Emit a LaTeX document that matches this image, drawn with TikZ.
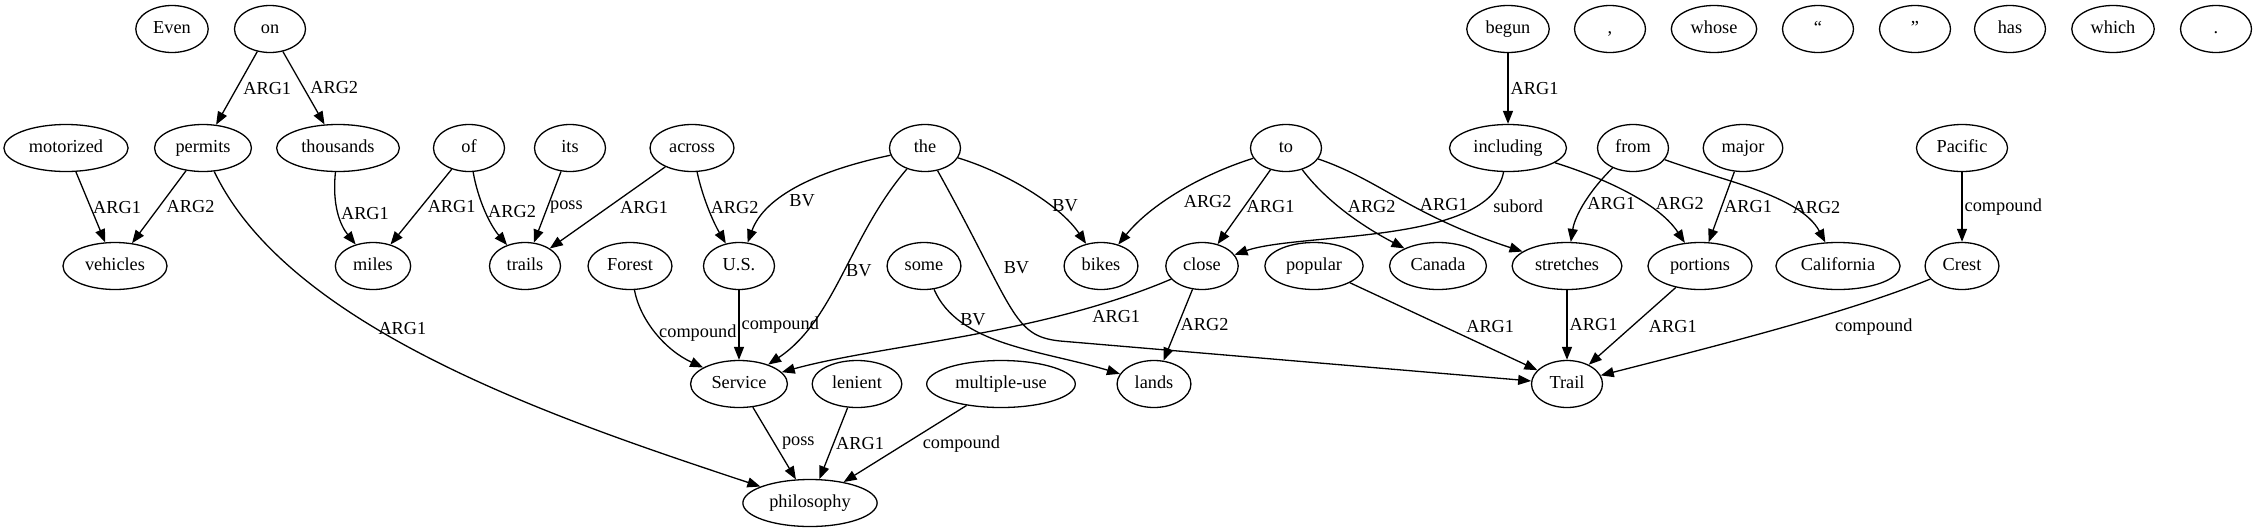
\documentclass[tikz,border=0pt]{standalone}
\usepackage{fontspec}
\setmainfont{Liberation Serif}
\usetikzlibrary{arrows.meta,shapes.geometric}

\begin{document}
\begin{tikzpicture}[x=1pt, y=1pt,
    every node/.style={font=\fontsize{18.3pt}{20pt}\selectfont},
    word/.style={draw, ellipse, line width=1.3pt, minimum height=47pt, minimum width=71pt, inner xsep=6.8pt, inner ysep=2pt, text height=12.5pt, text depth=4pt},
    edge/.style={line width=1.3pt, -{Triangle[length=13pt, width=10pt]}},
    lbl/.style={anchor=west, inner sep=2pt}]
    \useasboundingbox (0, 0) rectangle (2257, -528);

    \node [word] (even) at (172, -29) {Even};
    \node [word] (on) at (270, -29) {on};
    \node [word] (begun) at (1508, -29) {begun};
    \node [word] (comma) at (1610, -29) {,};
    \node [word] (whose) at (1714, -29) {whose};
    \node [word] (lquote) at (1818, -29) {“};
    \node [word] (rquote) at (1915, -29) {”};
    \node [word] (has) at (2010, -29) {has};
    \node [word] (which) at (2113, -29) {which};
    \node [word] (period) at (2216, -29) {.};

    \node [word] (motorized) at (66, -148) {motorized};
    \node [word] (permits) at (203, -148) {permits};
    \node [word] (thousands) at (338, -148) {thousands};
    \node [word] (of) at (469, -148) {of};
    \node [word] (its) at (570, -148) {its};
    \node [word] (across) at (692, -148) {across};
    \node [word] (the) at (925, -148) {the};
    \node [word] (to) at (1286, -148) {to};
    \node [word] (including) at (1508, -148) {including};
    \node [word] (from) at (1633, -148) {from};
    \node [word] (major) at (1743, -148) {major};
    \node [word] (pacific) at (1962, -148) {Pacific};

    \node [word] (vehicles) at (115, -266) {vehicles};
    \node [word] (miles) at (373, -266) {miles};
    \node [word] (trails) at (525, -266) {trails};
    \node [word] (forest) at (630, -266) {Forest};
    \node [word] (us) at (739, -266) {U.S.};
    \node [word] (some) at (924, -266) {some};
    \node [word] (bikes) at (1101, -266) {bikes};
    \node [word] (close) at (1202, -266) {close};
    \node [word] (popular) at (1314, -266) {popular};
    \node [word] (canada) at (1438, -266) {Canada};
    \node [word] (stretches) at (1567, -266) {stretches};
    \node [word] (portions) at (1700, -266) {portions};
    \node [word] (california) at (1838, -266) {California};
    \node [word] (crest) at (1962, -266) {Crest};

    \node [word] (service) at (739, -384) {Service};
    \node [word] (lenient) at (857, -384) {lenient};
    \node [word] (multipleuse) at (1001, -384) {multiple-use};
    \node [word] (lands) at (1154, -384) {lands};
    \node [word] (trail) at (1567, -384) {Trail};

    \node [word] (philosophy) at (810, -503) {philosophy};

    \draw [edge] (on) -- node [lbl, xshift=4pt] {ARG1} (permits);
    \draw [edge] (on) -- node [lbl, xshift=4pt] {ARG2} (thousands);
    \draw [edge] (motorized) -- node [lbl] {ARG1} (vehicles);
    \draw [edge] (permits) -- node [lbl, xshift=5pt] {ARG2} (vehicles);
    \draw [edge] (permits) .. controls (290, -330) and (560, -420) .. node [lbl, pos=0.39] {ARG1} (philosophy);
    \draw [edge] (thousands) .. controls (332, -205) and (340, -225) .. node [lbl] {ARG1} (miles);
    \draw [edge] (of) -- node [lbl, xshift=4pt] {ARG1} (miles);
    \draw [edge] (of) .. controls (478, -200) and (490, -225) .. node [lbl] {ARG2} (trails);
    \draw [edge] (its) -- node [lbl] {poss} (trails);
    \draw [edge] (across) -- node [lbl, xshift=10pt] {ARG1} (trails);
    \draw [edge] (across) .. controls (702, -195) and (712, -220) .. node [lbl] {ARG2} (us);

    \draw [edge] (the) .. controls (820, -170) and (765, -195) .. node [lbl, pos=0.65, xshift=8pt] {BV} (us);
    \draw [edge] (the) .. controls (850, -235) and (835, -320) .. node [lbl, pos=0.48] {BV} (service);
    \draw [edge] (the) .. controls (1005, -172) and (1060, -205) .. node [lbl, pos=0.65] {BV} (bikes);
    \draw [edge] (the) .. controls (1015, -310) and (1012, -336) .. node [lbl, pos=0.3, xshift=12pt] {BV} (1060, -341) -- (trail);
    \draw [edge] (forest) .. controls (640, -320) and (665, -350) .. node [lbl] {compound} (service);
    \draw [edge] (us) -- node [lbl] {compound} (service);
    \draw [edge] (some) .. controls (958, -345) and (1040, -350) .. node [lbl, pos=0.22] {BV} (lands);
    \draw [edge] (close) .. controls (1040, -335) and (880, -345) .. node [lbl, pos=0.2, anchor=north west] {ARG1} (service);
    \draw [edge] (close) -- node [lbl] {ARG2} (lands);

    \draw [edge] (to) .. controls (1200, -175) and (1150, -205) .. node [lbl, pos=0.6, xshift=17pt] {ARG2} (bikes);
    \draw [edge] (to) -- node [lbl] {ARG1} (close);
    \draw [edge] (to) .. controls (1325, -200) and (1360, -225) .. node [lbl, pos=0.44, xshift=6pt] {ARG2} (canada);
    \draw [edge] (to) .. controls (1380, -180) and (1410, -215) .. node [lbl, pos=0.55, xshift=7pt] {ARG1} (stretches);
    \draw [edge] (including) .. controls (1490, -245) and (1300, -232) .. node [lbl, pos=0.2, xshift=14pt] {subord} (close);
    \draw [edge] (begun) -- node [lbl] {ARG1} (including);
    \draw [edge] (including) .. controls (1610, -180) and (1660, -205) .. node [lbl, pos=0.6, xshift=9pt] {ARG2} (portions);
    \draw [edge] (from) .. controls (1590, -190) and (1575, -215) .. node [lbl] {ARG1} (stretches);
    \draw [edge] (from) .. controls (1720, -180) and (1800, -195) .. node [lbl, pos=0.7] {ARG2} (california);
    \draw [edge] (major) -- node [lbl] {ARG1} (portions);
    \draw [edge] (pacific) -- node [lbl] {compound} (crest);

    \draw [edge] (popular) -- node [lbl, xshift=20pt] {ARG1} (trail);
    \draw [edge] (stretches) -- node [lbl] {ARG1} (trail);
    \draw [edge] (portions) -- node [lbl, xshift=14pt] {ARG1} (trail);
    \draw [edge] (crest) .. controls (1850, -312) and (1720, -345) .. node [lbl, pos=0.38, anchor=north west, xshift=12pt] {compound} (trail);
    \draw [edge] (service) -- node [lbl, xshift=5pt] {poss} (philosophy);
    \draw [edge] (lenient) -- node [lbl] {ARG1} (philosophy);
    \draw [edge] (multipleuse) -- node [lbl, xshift=15pt] {compound} (philosophy);
  \end{tikzpicture}
\end{document}
